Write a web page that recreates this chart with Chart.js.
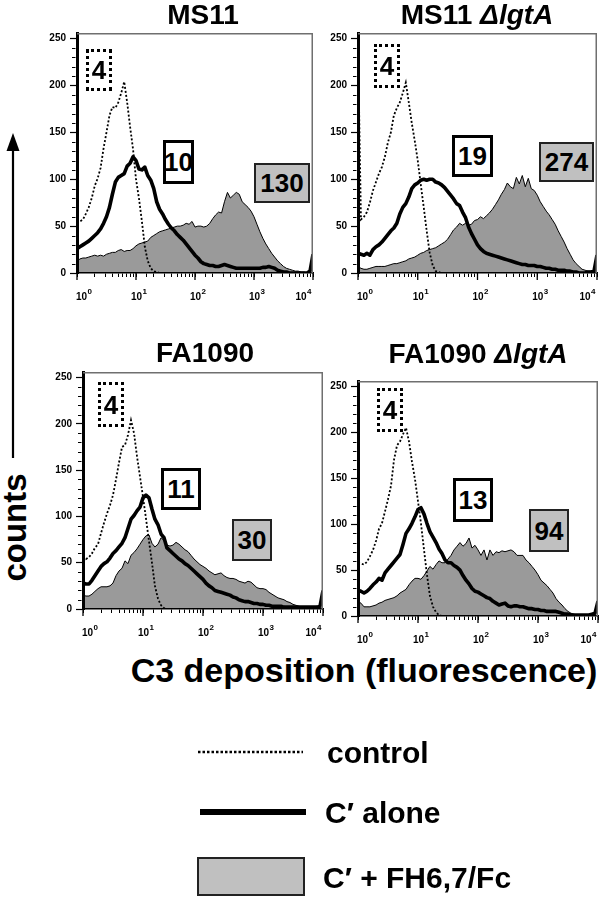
<!DOCTYPE html>
<html><head><meta charset="utf-8">
<script src="https://cdn.jsdelivr.net/npm/chart.js@4/dist/chart.umd.min.js"></script>
<style>
html,body{margin:0;padding:0;background:#fff;}
body{width:600px;height:897px;position:relative;overflow:hidden;font-family:"Liberation Sans",Arial,Helvetica,sans-serif;font-weight:bold;color:#000;}
.abs{position:absolute;white-space:nowrap;}
.cv{position:absolute;}
.box{position:absolute;box-sizing:border-box;display:flex;align-items:center;justify-content:center;font-size:26px;font-weight:bold;line-height:26px;}
.dot{border:3px dotted #000;}
.solid{border:3px solid #000;background:#fff;}
.gray{border:2px solid #222;background:#c0c0c0;}
</style></head><body>
<script>
// ---------- DATA ----------
// fluorescence channel values (x), 10^0 .. 10^4
const fluorescence = [
  1.00,1.12,1.26,1.41,1.58,1.78,2.00,2.24,2.51,2.82,
  3.16,3.55,3.98,4.47,5.01,5.62,6.31,7.08,7.94,8.91,
  10.0,11.2,12.6,14.1,15.8,17.8,20.0,22.4,25.1,28.2,
  31.6,35.5,39.8,44.7,50.1,56.2,63.1,70.8,79.4,89.1,
  100,112,126,141,158,178,200,224,251,282,
  316,355,398,447,501,562,631,708,794,891,
  1000,1122,1259,1413,1585,1778,1995,2239,2512,2818,
  3162,3548,3981,4467,5012,5623,6310,7079,7943,8913,
  10000];

const ms11Control = [
  57,55,57,63,70,80,93,101,112,133,
  150,168,177,176,182,192,204,182,156,132,
  100,80,55,28,13,5,2,1,0,0,
  0,0,0,0,0,0,0,0,0,0,
  0,0,0,0,0,0,0,0,0,0,
  0,0,0,0,0,0,0,0,0,0,
  0,0,0,0,0,0,0,0,0,0,
  0,0,0,0,0,0,0,0,0,0,
  0];
const ms11Alone = [
  26,28,30,32,34,37,40,43,47,53,
  60,70,84,97,102,104,106,114,117,124,
  120,111,110,113,104,99,90,76,68,63,
  57,52,48,45,41,38,35,31,27,23,
  19,16,12,10,9,8,8,7,7,8,
  9,8,7,6,5,5,5,5,5,5,
  5,5,5,6,6,7,6,5,3,2,
  1,1,0,0,0,0,0,0,0,2,
  20];
const ms11FH = [
  12,15,16,16,17,18,19,18,19,18,
  20,21,22,22,24,25,23,24,24,26,
  29,31,32,33,34,38,40,42,44,45,
  46,47,48,49,50,50,51,53,52,55,
  49,50,50,49,50,53,58,62,65,64,
  76,86,80,83,86,84,76,73,70,66,
  60,52,44,37,31,26,21,17,13,10,
  7,5,4,3,2,2,1,1,0,0,
  0];

const ms11LgtControl = [
  245,57,60,65,75,88,97,106,113,124,
  139,150,168,176,182,192,203,182,160,141,
  120,95,70,45,22,8,2,1,0,0,
  0,0,0,0,0,0,0,0,0,0,
  0,0,0,0,0,0,0,0,0,0,
  0,0,0,0,0,0,0,0,0,0,
  0,0,0,0,0,0,0,0,0,0,
  0,0,0,0,0,0,0,0,0,0,
  0];
const ms11LgtAlone = [
  21,20,19,21,19,25,28,30,33,37,
  41,45,48,53,63,70,74,81,90,94,
  96,99,100,99,100,100,97,96,94,91,
  87,83,79,74,72,65,59,49,42,36,
  30,26,23,21,20,19,18,17,16,15,
  14,13,12,11,10,9,9,8,8,8,
  7,7,6,5,5,4,4,3,3,3,
  2,2,1,1,0,0,0,1,1,2,
  19];
const ms11LgtFH = [
  7,5,4,4,5,6,7,7,7,7,
  8,9,10,10,11,12,13,15,16,17,
  19,21,22,24,25,26,27,29,31,33,
  36,41,46,49,53,51,53,51,52,56,
  57,60,58,61,64,68,73,78,84,89,
  96,92,90,102,95,104,92,101,90,88,
  83,76,71,66,62,57,52,45,39,33,
  26,20,14,10,7,4,3,2,2,1,
  1];

const fa1090Control = [
  57,54,56,60,66,70,82,93,103,112,
  123,140,158,175,177,188,204,190,165,143,
  121,98,73,50,25,11,4,1,0,0,
  0,0,0,0,0,0,0,0,0,0,
  0,0,0,0,0,0,0,0,0,0,
  0,0,0,0,0,0,0,0,0,0,
  0,0,0,0,0,0,0,0,0,0,
  0,0,0,0,0,0,0,0,0,0,
  0];
const fa1090Alone = [
  28,27,27,31,36,41,46,49,51,55,
  60,63,67,71,77,87,97,101,106,110,
  120,123,120,108,97,91,81,77,66,63,
  60,57,54,52,49,47,44,41,38,35,
  32,28,25,23,20,19,18,17,16,15,
  13,12,10,9,8,8,7,6,6,5,
  5,4,4,3,3,3,3,2,2,2,
  2,2,2,2,2,2,2,2,2,3,
  20];
const fa1090FH = [
  15,14,14,16,19,22,24,24,24,25,
  28,36,41,44,52,49,58,61,65,70,
  75,79,80,71,67,70,77,74,69,68,
  69,72,70,67,64,62,58,54,51,48,
  46,44,41,39,37,38,39,36,34,33,
  33,32,30,29,28,30,29,26,23,22,
  22,21,18,16,14,12,11,10,8,7,
  5,4,3,2,2,1,1,1,1,1,
  1];

const fa1090LgtControl = [
  58,57,56,59,65,72,82,95,101,114,
  127,142,170,186,190,198,205,190,168,149,
  125,101,72,45,22,10,4,1,0,0,
  0,0,0,0,0,0,0,0,0,0,
  0,0,0,0,0,0,0,0,0,0,
  0,0,0,0,0,0,0,0,0,0,
  0,0,0,0,0,0,0,0,0,0,
  0,0,0,0,0,0,0,0,0,0,
  0];
const fa1090LgtAlone = [
  28,27,25,27,30,34,37,41,39,47,
  51,55,59,63,67,78,90,95,101,108,
  116,118,111,101,92,86,80,73,68,61,
  58,58,55,53,50,44,39,35,30,27,
  26,24,22,20,19,16,14,12,13,14,
  11,10,11,11,10,10,9,8,8,7,
  7,6,6,5,5,5,5,4,3,2,
  2,1,1,1,1,1,1,1,2,3,
  16];
const fa1090LgtFH = [
  16,14,10,10,10,11,12,14,15,17,
  18,19,20,22,25,27,29,34,38,41,
  41,40,44,49,54,51,56,60,58,58,
  62,66,72,76,80,76,79,85,74,77,
  72,66,72,61,72,66,70,69,71,70,
  71,72,70,66,66,66,61,58,54,50,
  45,39,36,33,29,25,19,15,12,8,
  5,3,2,1,1,1,0,0,0,0,
  0];

// panel titles and median fluorescence labels
const panelTitles = ['MS11', 'MS11 <i>ΔlgtA</i>', 'FA1090', 'FA1090 <i>ΔlgtA</i>'];
const controlMFI = ['4', '4', '4', '4'];
const aloneMFI = ['10', '19', '11', '13'];
const fhMFI = ['130', '274', '30', '94'];
const seriesNames = ['control', 'C′ alone', 'C′ + FH6,7/Fc'];
const yTickValues = [0, 50, 100, 150, 200, 250];
const xDecades = [0, 1, 2, 3, 4];
const yAxisTitle = 'counts';
const xAxisTitle = 'C3 deposition (fluorescence)';

// ---------- LAYOUT ----------
const FONT = '"Liberation Sans", Arial, Helvetica, sans-serif';
const plotRects = [[77,33,313,273],[358,33,597,273],[83,372,323,609],[358,381,598,616]];
const titlePos = [[203,25],[477,25],[205,363],[478,364]];
const ctrlBox = [[86,49,26,42],[374,44,26,44],[98,382,26,45],[377,388,26,44]];
const aloneBox = [[163,140,31,44],[452,135,41,42],[161,468,40,42],[453,478,40,44]];
const fhBox = [[254,163,56,40],[539,142,55,40],[232,519,40,42],[529,509,40,43]];
const PADL = 45, PADT = 12, PADR = 10, PADB = 32;

function txt(html, x, baseline, size, align) {
  const d = document.createElement('div');
  d.className = 'abs';
  d.innerHTML = html;
  d.style.fontSize = size + 'px';
  d.style.lineHeight = size + 'px';
  d.style.top = (baseline - 0.8465 * size) + 'px';
  if (align === 'center') { d.style.left = x + 'px'; d.style.transform = 'translateX(-50%)'; }
  else if (align === 'right') { d.style.right = (600 - x) + 'px'; }
  else d.style.left = x + 'px';
  document.body.appendChild(d);
  return d;
}
function box(text, r, cls) {
  const d = document.createElement('div');
  d.className = 'box ' + cls;
  d.textContent = text;
  d.style.left = r[0] + 'px'; d.style.top = r[1] + 'px';
  d.style.width = r[2] + 'px'; d.style.height = r[3] + 'px';
  document.body.appendChild(d);
}

const panelDecor = {
  id: 'panelDecor',
  afterDraw(chart) {
    const {ctx, chartArea: a, scales: {x, y}} = chart;
    ctx.save();
    // top / right frame
    ctx.strokeStyle = '#6f6f6f'; ctx.lineWidth = 1.5;
    ctx.beginPath();
    ctx.moveTo(a.left, a.top + 0.75);
    ctx.lineTo(a.right - 0.75, a.top + 0.75);
    ctx.lineTo(a.right - 0.75, a.bottom);
    ctx.stroke();
    // minor y ticks
    ctx.strokeStyle = '#000'; ctx.lineWidth = 1;
    for (let i = 0; i < yTickValues.length - 1; i++) {
      for (let k = 1; k < 5; k++) {
        const v = yTickValues[i] + k * (yTickValues[i + 1] - yTickValues[i]) / 5;
        const py = Math.round(y.getPixelForValue(v)) + 0.5;
        ctx.beginPath(); ctx.moveTo(a.left - 5, py); ctx.lineTo(a.left - 1.5, py); ctx.stroke();
      }
    }
    // decade ticks + labels
    ctx.lineWidth = 1.3; ctx.fillStyle = '#000'; ctx.textBaseline = 'alphabetic';
    xDecades.forEach((e, i) => {
      const px = x.getPixelForValue(Math.pow(10, e));
      ctx.beginPath(); ctx.moveTo(px, a.bottom); ctx.lineTo(px, a.bottom + 7); ctx.stroke();
      ctx.font = 'bold 10px ' + FONT;
      const w10 = ctx.measureText('10').width;
      ctx.font = 'bold 8px ' + FONT;
      const ws = ctx.measureText(String(e)).width;
      let sx = (i === 0) ? px - 1 : px - 5;
      if (i === xDecades.length - 1) sx = px - 2 - w10 - ws;
      ctx.font = 'bold 10px ' + FONT;
      ctx.fillText('10', sx, a.bottom + 27);
      ctx.font = 'bold 8px ' + FONT;
      ctx.fillText(String(e), sx + w10 + 0.5, a.bottom + 21);
    });
    ctx.restore();
  }
};

const panelData = [
  [ms11Control, ms11Alone, ms11FH],
  [ms11LgtControl, ms11LgtAlone, ms11LgtFH],
  [fa1090Control, fa1090Alone, fa1090FH],
  [fa1090LgtControl, fa1090LgtAlone, fa1090LgtFH]
];
const toXY = arr => arr.map((v, i) => ({x: fluorescence[i], y: v}));

panelData.forEach((series, p) => {
  const [L, T, R, B] = plotRects[p];
  const wrap = document.createElement('div');
  wrap.className = 'cv';
  wrap.style.left = (L - PADL) + 'px';
  wrap.style.top = (T - PADT) + 'px';
  const cv = document.createElement('canvas');
  cv.width = (R - L) + PADL + PADR;
  cv.height = (B - T) + PADT + PADB;
  wrap.appendChild(cv);
  document.body.appendChild(wrap);
  new Chart(cv, {
    type: 'line',
    data: {
      datasets: [
        {label: seriesNames[0], data: toXY(series[0]), borderColor: '#000', borderWidth: 1.8,
         borderDash: [2, 2], fill: false},
        {label: seriesNames[1], data: toXY(series[1]), borderColor: '#000', borderWidth: 3.6,
         borderJoinStyle: 'round', fill: false},
        {label: seriesNames[2], data: toXY(series[2]), borderColor: '#000', borderWidth: 1,
         backgroundColor: '#9a9a9a', fill: 'origin'}
      ]
    },
    plugins: [panelDecor],
    options: {
      responsive: false, animation: false, devicePixelRatio: 1,
      layout: {padding: {left: 0, top: PADT, right: PADR, bottom: 0}, autoPadding: false},
      plugins: {legend: {display: false}, tooltip: {enabled: false}},
      elements: {point: {radius: 0}, line: {tension: 0}},
      scales: {
        x: {
          type: 'logarithmic', min: 1, max: 10000,
          afterFit(s) { s.height = PADB; },
          grid: {drawOnChartArea: false, drawTicks: true, tickLength: 4, tickColor: '#000', tickWidth: 1},
          border: {display: true, color: '#000', width: 1.5, z: 1},
          ticks: {autoSkip: false, maxRotation: 0, minRotation: 0, callback: () => ''}
        },
        y: {
          type: 'linear', min: 0, max: 256,
          afterFit(s) { s.width = PADL; },
          grid: {drawOnChartArea: false, drawTicks: true, tickLength: 7, tickColor: '#000', tickWidth: 1.2},
          border: {display: true, color: '#000', width: 3, z: 1},
          ticks: {stepSize: 50, includeBounds: false, padding: 4, color: '#000',
                  font: {size: 10, weight: 'bold', family: FONT}}
        }
      }
    }
  });
  const tp = titlePos[p];
  txt(panelTitles[p], tp[0], tp[1], 28, 'center');
  box(controlMFI[p], ctrlBox[p], 'dot');
  box(aloneMFI[p], aloneBox[p], 'solid');
  box(fhMFI[p], fhBox[p], 'gray');
});

// axis titles
txt(xAxisTitle, 364, 682, 34, 'center');
const c = document.createElement('div');
c.className = 'abs';
c.textContent = yAxisTitle;
c.style.fontSize = '33px'; c.style.lineHeight = '33px';
c.style.width = '120px'; c.style.textAlign = 'center';
c.style.left = (13.6 - 60) + 'px'; c.style.top = (527 - 16.5) + 'px';
c.style.transform = 'rotate(-90deg)';
document.body.appendChild(c);

// arrow and legend samples
const svgNS = 'http://www.w3.org/2000/svg';
const svg = document.createElementNS(svgNS, 'svg');
svg.setAttribute('width', '600'); svg.setAttribute('height', '897');
svg.style.position = 'absolute'; svg.style.left = '0'; svg.style.top = '0';
svg.innerHTML =
  '<line x1="13" y1="148" x2="13" y2="458" stroke="#000" stroke-width="2.2"/>' +
  '<polygon points="13,133 6.5,151 19.5,151" fill="#000"/>' +
  '<line x1="198" y1="752" x2="303" y2="752" stroke="#000" stroke-width="2.5" stroke-dasharray="2.5 2"/>' +
  '<line x1="200" y1="812" x2="306" y2="812" stroke="#000" stroke-width="6"/>' +
  '<rect x="198" y="858" width="106" height="37" fill="#c0c0c0" stroke="#222" stroke-width="2"/>';
document.body.appendChild(svg);
txt(seriesNames[0], 327, 763, 30, 'left');
txt(seriesNames[1], 325, 823, 30, 'left');
txt(seriesNames[2], 323, 888, 30, 'left');
</script>
</body></html>
